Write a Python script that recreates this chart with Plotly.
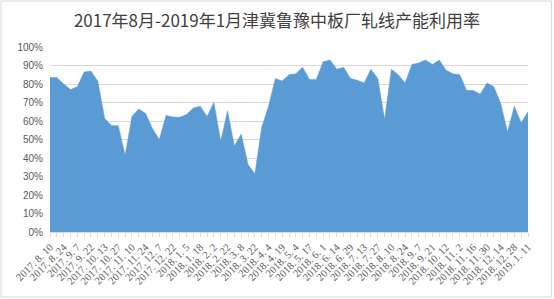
import plotly.graph_objects as go

title_text = "2017年8月-2019年1月津冀鲁豫中板厂轧线产能利用率"

tick_labels = [
    "2017. 8. 10", "2017. 8. 24", "2017. 9. 7", "2017. 9. 22", "2017. 10. 13", "2017. 10. 27",
    "2017. 11. 10", "2017. 11. 24", "2017. 12. 7", "2017. 12. 22", "2018. 1. 5", "2018. 1. 18",
    "2018. 2. 2", "2018. 2. 22", "2018. 3. 8", "2018. 3. 22", "2018. 4. 4", "2018. 4. 19",
    "2018. 5. 4", "2018. 5. 17", "2018. 6. 1", "2018. 6. 14", "2018. 6. 29", "2018. 7. 13",
    "2018. 7. 27", "2018. 8. 10", "2018. 8. 24", "2018. 9. 7", "2018. 9. 21", "2018. 10. 12",
    "2018. 11. 2", "2018. 11. 16", "2018. 11. 30", "2018. 12. 14", "2018. 12. 28", "2019. 1. 11",
]

utilization = [
    83.5, 83.5, 80, 77, 78.5, 86.5, 87, 81.5, 61.5, 57.5,
    57.5, 41.5, 62.5, 66.5, 64, 56, 50, 63, 62.2, 62,
    63.5, 67, 68, 62.5, 70, 49, 65.5, 46.5, 53, 36.5,
    31.5, 56.5, 68, 83, 81.6, 85, 85.6, 89, 82.5, 82.5,
    92, 93, 88, 89, 83, 82, 80.5, 88, 83, 61,
    88, 85, 80.5, 90.5, 91.4, 93, 90.5, 93, 87.5, 85.5,
    85, 76.6, 76.5, 74.5, 80.5, 78.5, 69.5, 54, 68, 59,
    65,
]

y_ticks = [0, 10, 20, 30, 40, 50, 60, 70, 80, 90, 100]

x_idx = list(range(len(utilization)))
tick_pos = x_idx[::2]

fig = go.Figure()
fig.add_trace(go.Scatter(
    x=x_idx, y=[v / 100 for v in utilization],
    mode="lines", fill="tozeroy",
    line=dict(color="#5b9bd5", width=0.5),
    fillcolor="#5b9bd5",
    hoverinfo="skip",
))

W, H = 554, 299
ml, mr, mt, mb = 50, 25.5, 47, 67
pw = W - ml - mr
ph = H - mt - mb

fig.update_layout(
    width=W, height=H,
    margin=dict(l=ml, r=mr, t=mt, b=mb),
    paper_bgcolor="white", plot_bgcolor="white",
    showlegend=False,
    title=dict(text=title_text, x=0.5, xanchor="center", y=1 - 21 / H, yanchor="middle",
               font=dict(family="Noto Sans CJK SC", size=17, color="#404040")),
    xaxis=dict(
        range=[0, len(utilization) - 1],
        tickmode="array", tickvals=tick_pos, ticktext=tick_labels,
        tickangle=-45,
        tickfont=dict(family="Liberation Serif", size=10.5, color="#595959"),
        ticks="outside", ticklen=4, tickcolor="#d9d9d9",
        minor=dict(tickmode="linear", tick0=0, dtick=1, ticks="outside", ticklen=4, tickcolor="#d9d9d9"),
        showgrid=False, zeroline=False,
        showline=True, linecolor="#d9d9d9", linewidth=1,
        fixedrange=True,
    ),
    yaxis=dict(
        range=[0, 1.0],
        tickmode="array", tickvals=[t / 100 for t in y_ticks],
        ticktext=[f"{t}%" for t in y_ticks],
        tickfont=dict(family="Liberation Sans", size=10, color="#595959"),
        showgrid=True, gridcolor="#d9d9d9", gridwidth=1,
        zeroline=False, showline=False, ticks="",
        ticklabelstandoff=6,
        fixedrange=True,
    ),
    shapes=[dict(
        type="rect", xref="paper", yref="paper",
        x0=(1 - ml) / pw, x1=(W - 2 - ml) / pw,
        y0=-(H - 2 - mt - ph) / ph, y1=1 + (mt - 1) / ph,
        line=dict(color="#d9d9d9", width=1), fillcolor="rgba(0,0,0,0)", layer="below",
    )],
)

fig.write_html("out.html")
